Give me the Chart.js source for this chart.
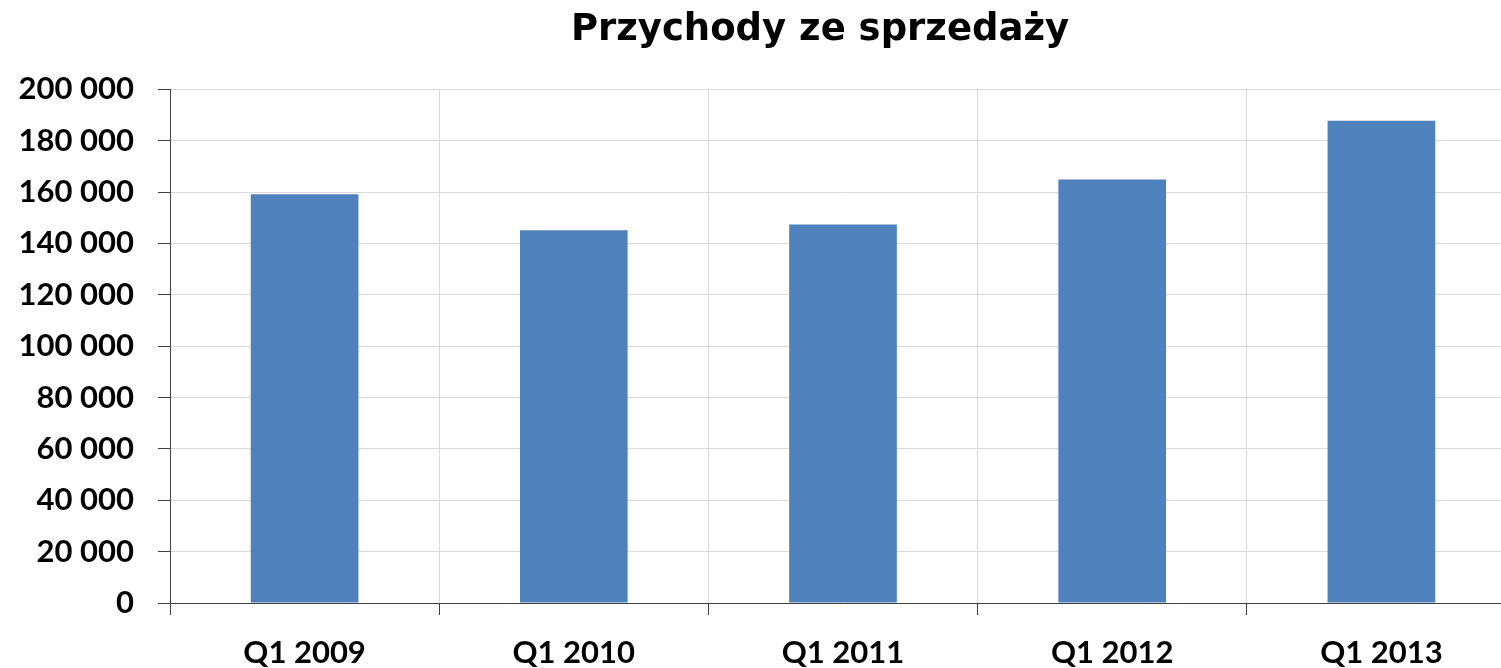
<!DOCTYPE html>
<html>
<head>
<meta charset="utf-8">
<script src="https://cdn.jsdelivr.net/npm/chart.js@4"></script>
<style>
  html, body { margin: 0; padding: 0; background: #fff; }
  /* the original plot runs a little past the right edge, so the canvas is wider and clipped */
  #wrap { width: 1501px; height: 668px; overflow: hidden; }
</style>
</head>
<body>
<div id="wrap"><canvas id="myChart" width="1516" height="668"></canvas></div>
<script>
const categories = ['Q1 2009', 'Q1 2010', 'Q1 2011', 'Q1 2012', 'Q1 2013'];
const revenue = [159200, 145200, 147400, 164900, 187800];
const yTicks = [0, 20000, 40000, 60000, 80000, 100000, 120000, 140000, 160000, 180000, 200000];

const tickFont = { family: 'Lato', size: 31, weight: 'bold' };
const fmt = v => String(v).replace(/\B(?=(\d{3})+(?!\d))/g, ' ');

// the title in the original sits a bit left of the plot centre
const shiftTitle = {
  id: 'shiftTitle',
  afterLayout(chart) {
    const t = chart.titleBlock;
    if (t) { t.left -= 23; t.right -= 23; }
  }
};

const ctx = document.getElementById('myChart');
new Chart(ctx, {
  type: 'bar',
  data: {
    labels: categories,
    datasets: [{
      label: 'Przychody',
      data: revenue,
      backgroundColor: '#4F81BD',
      borderWidth: 0,
      categoryPercentage: 1,
      barPercentage: 0.4
    }]
  },
  plugins: [shiftTitle],
  options: {
    responsive: false,
    animation: false,
    layout: { padding: 0 },
    plugins: {
      legend: { display: false },
      tooltip: { enabled: false },
      title: {
        display: true,
        text: 'Przychody ze sprzedaży',
        fullSize: false,
        color: '#000',
        font: { family: 'DejaVu Sans', size: 37, weight: 'bold' },
        padding: { top: 8, bottom: 37 }
      }
    },
    scales: {
      x: {
        grid: { color: '#d9d9d9', tickColor: '#404040', tickLength: 12, offset: true },
        border: { color: '#404040', width: 1 },
        ticks: { color: '#000', font: tickFont, padding: 19, maxRotation: 0 },
        afterFit: s => { s.height = 65; }
      },
      y: {
        min: 0,
        max: 200000,
        afterBuildTicks: s => { s.ticks = yTicks.map(v => ({ value: v })); },
        grid: { color: '#d9d9d9', tickColor: '#404040', tickLength: 12 },
        border: { color: '#404040', width: 1 },
        ticks: { color: '#000', font: tickFont, padding: 24, callback: v => fmt(v) },
        afterFit: s => { s.width = 170; }
      }
    }
  }
});
</script>
</body>
</html>
